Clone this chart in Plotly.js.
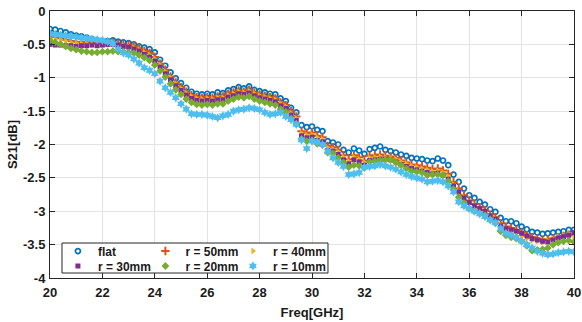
<!DOCTYPE html>
<html>
<head>
<meta charset="utf-8">
<script src="https://cdn.plot.ly/plotly-3.0.1.min.js"></script>
<style>html,body{margin:0;padding:0;background:#fff;}#chart{width:582px;height:322px;}</style>
</head>
<body>
<div id="chart"></div>
<script>
var freq = [20.0,20.2,20.4,20.6,20.8,21.0,21.2,21.4,21.6,21.8,22.0,22.2,22.4,22.6,22.8,23.0,23.2,23.4,23.6,23.8,24.0,24.2,24.4,24.6,24.8,25.0,25.2,25.4,25.6,25.8,26.0,26.2,26.4,26.6,26.8,27.0,27.2,27.4,27.6,27.8,28.0,28.2,28.4,28.6,28.8,29.0,29.2,29.4,29.6,29.8,30.0,30.2,30.4,30.6,30.8,31.0,31.2,31.4,31.6,31.8,32.0,32.2,32.4,32.6,32.8,33.0,33.2,33.4,33.6,33.8,34.0,34.2,34.4,34.6,34.8,35.0,35.2,35.4,35.6,35.8,36.0,36.2,36.4,36.6,36.8,37.0,37.2,37.4,37.6,37.8,38.0,38.2,38.4,38.6,38.8,39.0,39.2,39.4,39.6,39.8,40.0];

var flat = [-0.27,-0.28,-0.30,-0.32,-0.35,-0.37,-0.38,-0.40,-0.42,-0.44,-0.45,-0.45,-0.44,-0.46,-0.47,-0.48,-0.50,-0.53,-0.55,-0.57,-0.62,-0.73,-0.82,-0.92,-1.01,-1.08,-1.15,-1.21,-1.24,-1.25,-1.24,-1.25,-1.22,-1.23,-1.19,-1.17,-1.14,-1.16,-1.13,-1.18,-1.20,-1.22,-1.24,-1.25,-1.31,-1.35,-1.45,-1.52,-1.71,-1.74,-1.73,-1.78,-1.80,-1.95,-1.97,-2.00,-2.08,-2.12,-2.06,-2.09,-2.14,-2.07,-2.05,-2.03,-2.08,-2.10,-2.12,-2.15,-2.17,-2.20,-2.21,-2.22,-2.24,-2.25,-2.21,-2.24,-2.31,-2.45,-2.56,-2.66,-2.76,-2.80,-2.86,-2.90,-2.97,-3.01,-3.10,-3.15,-3.15,-3.18,-3.23,-3.27,-3.31,-3.32,-3.34,-3.33,-3.32,-3.31,-3.30,-3.28,-3.28];

var r50 = [-0.38,-0.39,-0.41,-0.43,-0.45,-0.46,-0.47,-0.47,-0.48,-0.49,-0.48,-0.48,-0.47,-0.49,-0.50,-0.51,-0.53,-0.56,-0.60,-0.63,-0.69,-0.79,-0.88,-0.98,-1.07,-1.14,-1.21,-1.26,-1.29,-1.30,-1.29,-1.30,-1.28,-1.28,-1.24,-1.22,-1.19,-1.21,-1.18,-1.22,-1.25,-1.27,-1.29,-1.31,-1.37,-1.41,-1.50,-1.58,-1.80,-1.83,-1.82,-1.87,-1.89,-2.02,-2.04,-2.08,-2.16,-2.22,-2.16,-2.19,-2.24,-2.17,-2.16,-2.15,-2.17,-2.18,-2.20,-2.24,-2.27,-2.30,-2.31,-2.33,-2.35,-2.37,-2.36,-2.39,-2.44,-2.56,-2.66,-2.76,-2.84,-2.89,-2.94,-2.98,-3.05,-3.09,-3.18,-3.23,-3.25,-3.28,-3.32,-3.36,-3.39,-3.41,-3.43,-3.42,-3.41,-3.39,-3.37,-3.35,-3.36];

var r40 = [-0.41,-0.42,-0.43,-0.45,-0.47,-0.48,-0.49,-0.49,-0.50,-0.50,-0.50,-0.49,-0.49,-0.50,-0.52,-0.53,-0.55,-0.58,-0.62,-0.66,-0.72,-0.81,-0.91,-1.00,-1.09,-1.16,-1.23,-1.28,-1.31,-1.32,-1.31,-1.32,-1.30,-1.30,-1.26,-1.24,-1.21,-1.22,-1.20,-1.24,-1.27,-1.29,-1.31,-1.33,-1.39,-1.43,-1.53,-1.61,-1.83,-1.86,-1.85,-1.90,-1.92,-2.05,-2.07,-2.11,-2.19,-2.25,-2.19,-2.22,-2.27,-2.20,-2.19,-2.18,-2.19,-2.20,-2.22,-2.26,-2.29,-2.32,-2.34,-2.36,-2.38,-2.40,-2.39,-2.42,-2.48,-2.60,-2.70,-2.79,-2.87,-2.92,-2.97,-3.01,-3.08,-3.12,-3.21,-3.26,-3.29,-3.33,-3.38,-3.41,-3.44,-3.45,-3.46,-3.44,-3.41,-3.38,-3.36,-3.34,-3.38];

var r30 = [-0.50,-0.51,-0.51,-0.52,-0.52,-0.53,-0.52,-0.52,-0.51,-0.52,-0.51,-0.50,-0.50,-0.51,-0.53,-0.54,-0.57,-0.60,-0.65,-0.69,-0.75,-0.84,-0.94,-1.03,-1.12,-1.19,-1.26,-1.31,-1.34,-1.35,-1.34,-1.35,-1.33,-1.33,-1.29,-1.27,-1.24,-1.25,-1.23,-1.27,-1.30,-1.32,-1.34,-1.36,-1.42,-1.46,-1.56,-1.64,-1.87,-1.90,-1.89,-1.94,-1.96,-2.09,-2.10,-2.15,-2.23,-2.29,-2.23,-2.26,-2.31,-2.24,-2.23,-2.22,-2.22,-2.23,-2.26,-2.30,-2.33,-2.36,-2.38,-2.40,-2.42,-2.44,-2.43,-2.46,-2.52,-2.62,-2.71,-2.80,-2.87,-2.92,-2.96,-3.00,-3.07,-3.12,-3.22,-3.26,-3.28,-3.30,-3.33,-3.37,-3.41,-3.43,-3.45,-3.46,-3.43,-3.40,-3.38,-3.36,-3.32];

var r20 = [-0.44,-0.47,-0.50,-0.53,-0.56,-0.58,-0.60,-0.61,-0.62,-0.62,-0.61,-0.61,-0.60,-0.61,-0.61,-0.62,-0.63,-0.66,-0.70,-0.74,-0.81,-0.90,-0.99,-1.09,-1.18,-1.25,-1.32,-1.37,-1.40,-1.41,-1.40,-1.41,-1.39,-1.39,-1.35,-1.32,-1.29,-1.30,-1.28,-1.32,-1.35,-1.37,-1.39,-1.41,-1.47,-1.51,-1.61,-1.69,-1.92,-1.95,-1.94,-1.99,-2.01,-2.12,-2.13,-2.20,-2.27,-2.34,-2.31,-2.32,-2.35,-2.26,-2.25,-2.24,-2.23,-2.23,-2.27,-2.31,-2.36,-2.40,-2.41,-2.42,-2.46,-2.45,-2.45,-2.46,-2.55,-2.67,-2.79,-2.88,-2.96,-3.00,-3.03,-3.06,-3.13,-3.18,-3.30,-3.36,-3.39,-3.41,-3.45,-3.52,-3.59,-3.58,-3.57,-3.55,-3.50,-3.47,-3.45,-3.44,-3.46];

var r10 = [-0.34,-0.35,-0.36,-0.37,-0.38,-0.39,-0.40,-0.41,-0.42,-0.43,-0.44,-0.46,-0.49,-0.57,-0.63,-0.66,-0.72,-0.78,-0.85,-0.89,-0.94,-1.05,-1.15,-1.22,-1.30,-1.39,-1.47,-1.54,-1.55,-1.55,-1.56,-1.58,-1.60,-1.57,-1.55,-1.50,-1.48,-1.47,-1.45,-1.46,-1.48,-1.52,-1.55,-1.54,-1.52,-1.58,-1.63,-1.70,-1.93,-2.06,-1.95,-1.96,-2.00,-2.10,-2.20,-2.27,-2.33,-2.45,-2.44,-2.42,-2.34,-2.33,-2.32,-2.30,-2.32,-2.34,-2.37,-2.41,-2.45,-2.48,-2.50,-2.52,-2.56,-2.55,-2.54,-2.56,-2.62,-2.71,-2.86,-2.92,-2.96,-3.00,-3.04,-3.08,-3.13,-3.17,-3.26,-3.33,-3.36,-3.39,-3.45,-3.50,-3.55,-3.60,-3.63,-3.65,-3.64,-3.62,-3.61,-3.60,-3.61];

var seriesNames = ['flat', 'r = 50mm', 'r = 40mm', 'r = 30mm', 'r = 20mm', 'r = 10mm'];
var xTickVals = [20, 22, 24, 26, 28, 30, 32, 34, 36, 38, 40];
var xTickText = ['20', '22', '24', '26', '28', '30', '32', '34', '36', '38', '40'];
var yTickVals = [0, -0.5, -1, -1.5, -2, -2.5, -3, -3.5, -4];
var yTickText = ['0', '-0.5', '-1', '-1.5', '-2', '-2.5', '-3', '-3.5', '-4'];

var FONT = 'Liberation Sans, Arial, sans-serif';
var styles = [
  {symbol: 'circle-open', size: 5, color: '#0072BD', line: {width: 1.7, color: '#0072BD'}, legend: 'legend', lw: null},
  {symbol: 'cross-thin-open', size: 6, color: '#D95319', line: {width: 2, color: '#D95319'}, legend: 'legend', lw: null},
  {symbol: 'triangle-right', size: 6, color: '#EDB120', line: {width: 0}, legend: 'legend', lw: 70},
  {symbol: 'square', size: 5, color: '#7E2F8E', line: {width: 0}, legend: 'legend2', lw: null},
  {symbol: 'diamond', size: 6, color: '#77AC30', line: {width: 0}, legend: 'legend2', lw: null},
  {symbol: 'hexagram', size: 7, color: '#4DBEEE', line: {width: 0}, legend: 'legend2', lw: 70}
];
var allY = [flat, r50, r40, r30, r20, r10];

var traces = allY.map(function (ys, i) {
  var s = styles[i];
  var t = {
    type: 'scatter', mode: 'markers', x: freq, y: ys, name: seriesNames[i],
    legend: s.legend,
    marker: {symbol: s.symbol, size: s.size, color: s.color, line: s.line}
  };
  if (s.lw) t.legendwidth = s.lw;
  return t;
});

var axisCommon = {
  showline: true, linecolor: '#262626', linewidth: 1, mirror: 'ticks',
  ticks: 'inside', ticklen: 5, tickcolor: '#262626', tickwidth: 1,
  showgrid: true, gridcolor: '#e3e3e3', gridwidth: 1, zeroline: false,
  tickfont: {family: FONT, size: 13, color: '#1a1a1a', weight: 'bold'}
};

var legendCommon = {
  orientation: 'h', xanchor: 'left', yanchor: 'middle',
  bgcolor: 'rgba(0,0,0,0)', borderwidth: 0,
  entrywidth: 42.5, entrywidthmode: 'pixels',
  font: {family: FONT, size: 12, color: '#1a1a1a', weight: 'bold'},
  itemclick: false
};

var layout = {
  width: 582, height: 322,
  margin: {l: 50, r: 8, t: 11, b: 44},
  paper_bgcolor: '#ffffff', plot_bgcolor: '#ffffff',
  showlegend: true,
  xaxis: Object.assign({}, axisCommon, {
    range: [20, 40], tickvals: xTickVals, ticktext: xTickText,
    ticklabelstandoff: 2,
    title: {text: 'Freq[GHz]', font: {family: FONT, size: 13, color: '#1a1a1a', weight: 'bold'}, standoff: 9}
  }),
  yaxis: Object.assign({}, axisCommon, {
    range: [-4, 0], tickvals: yTickVals, ticktext: yTickText,
    ticklabelstandoff: 1,
    title: {text: 'S21[dB]', font: {family: FONT, size: 13, color: '#1a1a1a', weight: 'bold'}, standoff: 2}
  }),
  legend: Object.assign({}, legendCommon, {x: 0.0151, y: 0.101}),
  legend2: Object.assign({}, legendCommon, {x: 0.0151, y: 0.045}),
  shapes: [{
    type: 'rect', xref: 'paper', yref: 'paper', layer: 'above',
    x0: 0.0229, x1: 0.5305, y0: 0.0187, y1: 0.131,
    fillcolor: '#ffffff', line: {color: '#262626', width: 1}
  }]
};

Plotly.newPlot('chart', traces, layout, {staticPlot: true, displayModeBar: false});
</script>
</body>
</html>
